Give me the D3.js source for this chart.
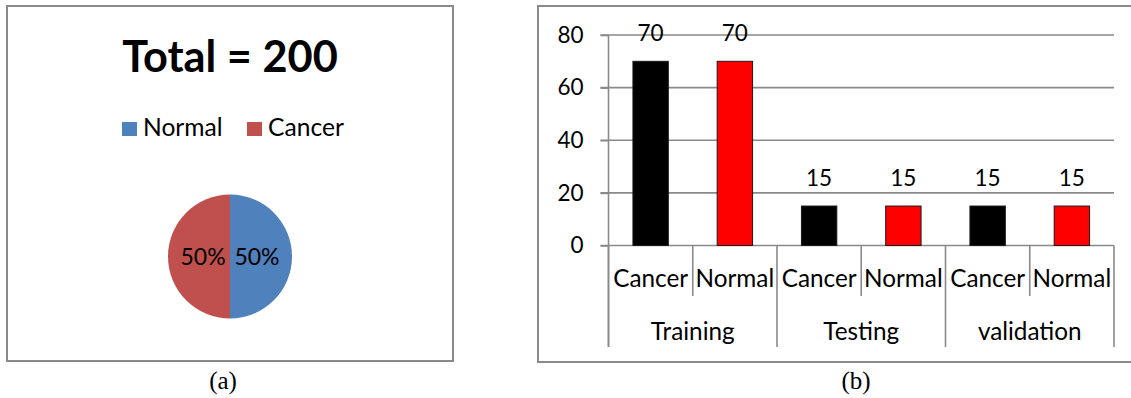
<!DOCTYPE html>
<html>
<head>
<meta charset="utf-8">
<script src="https://cdn.jsdelivr.net/npm/d3@7"></script>
<style>
  html, body { margin: 0; padding: 0; background: #fff; }
  svg { display: block; }
  text { font-family: Lato, "Open Sans", sans-serif; fill: #000; }
  .cap { font-family: "Liberation Serif", "DejaVu Serif", serif; }
</style>
</head>
<body>
<svg id="chart" width="1131" height="398"></svg>
<script>
// ---------- data ----------
const pieTitle = "Total = 200";
const pieCategories = ["Normal", "Cancer"];
const pieValues = [100, 100];
const pieColors = ["#4F81BD", "#C0504D"];

const groups = ["Training", "Testing", "validation"];
const classes = ["Cancer", "Normal"];
const cancerValues = [70, 15, 15];
const normalValues = [70, 15, 15];
const barColors = ["#000000", "#FF0000"];
const yTicks = [0, 20, 40, 60, 80];
const captions = ["(a)", "(b)"];

const svg = d3.select("#chart");
svg.append("rect").attr("width", 1131).attr("height", 398).attr("fill", "#fff");

const frameColor = "#8a8a8a";
const wordSize = "24.3px";
const numSize = "22.5px";

// ---------- panel (a): pie ----------
const A = { x0: 7, y0: 6, x1: 453, y1: 361 };
svg.append("rect")
  .attr("x", A.x0).attr("y", A.y0)
  .attr("width", A.x1 - A.x0).attr("height", A.y1 - A.y0)
  .attr("fill", "none").attr("stroke", frameColor).attr("stroke-width", 2);

const cxA = 230;
svg.append("text")
  .attr("x", cxA).attr("y", 71.5)
  .attr("text-anchor", "middle")
  .style("font-weight", "bold").style("font-size", "43.3px")
  .text(pieTitle);

// legend
const legendX = [122, 247];
const leg = svg.append("g");
pieCategories.forEach((c, i) => {
  leg.append("rect").attr("x", legendX[i]).attr("y", 122)
    .attr("width", 15).attr("height", 14).attr("fill", pieColors[i]);
  leg.append("text").attr("x", legendX[i] + 21).attr("y", 135.5)
    .style("font-size", "24.6px").text(c);
});

const pieR = 62;
const pieG = svg.append("g").attr("transform", `translate(${cxA},256.5)`);
const pie = d3.pie().sort(null).value(d => d.v);
const arcs = pie(pieCategories.map((c, i) => ({ c, v: pieValues[i], col: pieColors[i] })));
const arc = d3.arc().innerRadius(0).outerRadius(pieR);
const labelArc = d3.arc().innerRadius(0).outerRadius(pieR * 0.87);
const total = d3.sum(pieValues);
pieG.selectAll("path").data(arcs).join("path")
  .attr("d", arc).attr("fill", d => d.data.col);
pieG.selectAll("text").data(arcs).join("text")
  .attr("x", d => labelArc.centroid(d)[0])
  .attr("y", d => labelArc.centroid(d)[1])
  .attr("dy", "0.38em")
  .attr("text-anchor", "middle")
  .style("font-size", "23px")
  .text(d => Math.round(d.data.v / total * 100) + "%");

svg.append("text").attr("class", "cap")
  .attr("x", 223).attr("y", 389)
  .attr("text-anchor", "middle").style("font-size", "25px")
  .text(captions[0]);

// ---------- panel (b): bars ----------
const B = { x0: 538, y0: 6, x1: 1140, y1: 362 };
svg.append("rect")
  .attr("x", B.x0).attr("y", B.y0)
  .attr("width", B.x1 - B.x0).attr("height", B.y1 - B.y0)
  .attr("fill", "none").attr("stroke", frameColor).attr("stroke-width", 2);

const plotL = 608.5, plotR = 1114;
const y = d3.scaleLinear().domain([0, 80]).range([245.5, 35]);
const gx = d3.scaleBand().domain(groups).range([plotL, plotR]).padding(0);
const cx = d3.scaleBand().domain(classes).range([0, gx.bandwidth()])
  .paddingInner(0.58).paddingOuter(0.29);

const gridColor = "#8a8a8a";
// gridlines
svg.append("g").selectAll("line").data(yTicks.filter(t => t > 0)).join("line")
  .attr("x1", plotL - 8).attr("x2", plotR)
  .attr("y1", d => y(d)).attr("y2", d => y(d))
  .attr("stroke", gridColor).attr("stroke-width", 1.6);

// y axis via d3
const yAxis = d3.axisLeft(y).tickValues(yTicks).tickSize(8).tickPadding(17);
const yAxisG = svg.append("g").attr("transform", `translate(${plotL},0)`).call(yAxis);
yAxisG.select(".domain").remove();
yAxisG.selectAll("line").attr("stroke", gridColor).attr("stroke-width", 1.6);
yAxisG.selectAll("text").style("font-size", numSize).style("font-family", "Lato").attr("fill", "#000");

// axis lines
svg.append("line").attr("x1", plotL).attr("x2", plotL).attr("y1", y(80)).attr("y2", 347)
  .attr("stroke", gridColor).attr("stroke-width", 1.6);
svg.append("line").attr("x1", plotL - 8).attr("x2", plotR).attr("y1", y(0)).attr("y2", y(0))
  .attr("stroke", gridColor).attr("stroke-width", 1.6);

// bars
const barData = [];
groups.forEach((g, gi) => {
  barData.push({ g, c: classes[0], v: cancerValues[gi], col: barColors[0] });
  barData.push({ g, c: classes[1], v: normalValues[gi], col: barColors[1] });
});
const bars = svg.append("g");
bars.selectAll("rect").data(barData).join("rect")
  .attr("x", d => gx(d.g) + cx(d.c))
  .attr("y", d => y(d.v))
  .attr("width", cx.bandwidth())
  .attr("height", d => y(0) - y(d.v))
  .attr("fill", d => d.col)
  .attr("stroke", "#1a1a1a").attr("stroke-width", 1);
bars.selectAll("text").data(barData).join("text")
  .attr("x", d => gx(d.g) + cx(d.c) + cx.bandwidth() / 2)
  .attr("y", d => y(d.v) - 20)
  .attr("text-anchor", "middle")
  .style("font-size", numSize)
  .text(d => d.v);

// category separators and labels
const sep = svg.append("g");
groups.forEach((g, gi) => {
  const gx0 = gx(g), mid = gx0 + gx.bandwidth() / 2;
  sep.append("line").attr("x1", mid).attr("x2", mid).attr("y1", y(0)).attr("y2", 296)
    .attr("stroke", gridColor).attr("stroke-width", 1.6);
  classes.forEach((c, ci) => {
    sep.append("text")
      .attr("x", gx0 + cx(c) + cx.bandwidth() / 2)
      .attr("y", 287)
      .attr("text-anchor", "middle")
      .style("font-size", wordSize)
      .text(c);
  });
  sep.append("text")
    .attr("x", mid).attr("y", 340)
    .attr("text-anchor", "middle")
    .style("font-size", wordSize)
    .text(g);
});
groups.concat([null]).forEach((g, i) => {
  const xx = g ? gx(g) : plotR;
  sep.append("line").attr("x1", xx).attr("x2", xx).attr("y1", y(0)).attr("y2", 347)
    .attr("stroke", gridColor).attr("stroke-width", 1.6);
});

svg.append("text").attr("class", "cap")
  .attr("x", 856).attr("y", 389)
  .attr("text-anchor", "middle").style("font-size", "25px")
  .text(captions[1]);
</script>
</body>
</html>
